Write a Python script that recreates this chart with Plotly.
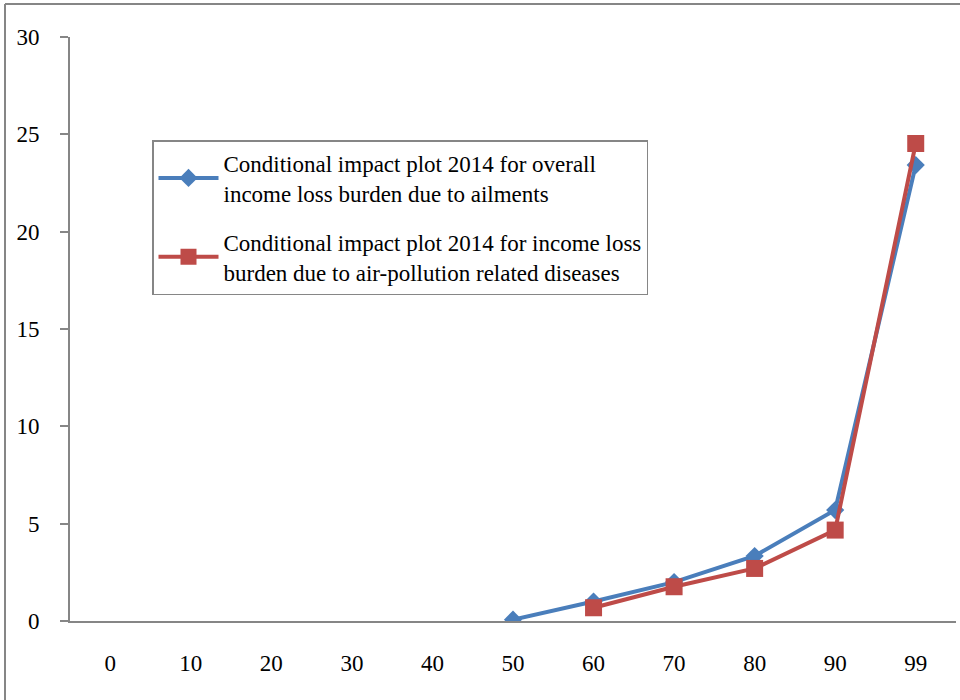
import plotly.graph_objects as go

categories = ["0", "10", "20", "30", "40", "50", "60", "70", "80", "90", "99"]
overall_x = ["50", "60", "70", "80", "90", "99"]
overall_y = [0.07, 1.0, 2.0, 3.34, 5.7, 23.42]
air_x = ["60", "70", "80", "90", "99"]
air_y = [0.68, 1.76, 2.7, 4.67, 24.53]

name_overall = "Conditional impact plot 2014 for overall<br>income loss burden due to ailments"
name_air = "Conditional impact plot 2014 for income loss<br>burden due to air-pollution related diseases"

BLUE = "#4A7EBB"
RED = "#BE4B48"
GRAY = "#868686"
FONT = "Liberation Serif"

fig = go.Figure()
fig.add_trace(go.Scatter(
    x=overall_x, y=overall_y, name=name_overall, mode="lines+markers",
    legendgroup="a",
    line=dict(color=BLUE, width=4),
    marker=dict(symbol="diamond", size=14, color=BLUE),
))
fig.add_trace(go.Scatter(
    x=air_x, y=air_y, name=name_air, mode="lines+markers",
    legendgroup="b",
    line=dict(color=RED, width=4),
    marker=dict(symbol="square", size=17, color=RED),
))

L, R, T, B = 70, 4, 37, 79
W, H = 960, 700
pw = W - L - R
ph = H - T - B

fig.update_layout(
    width=W, height=H,
    margin=dict(l=L, r=R, t=T, b=B),
    paper_bgcolor="white", plot_bgcolor="white",
    font=dict(family=FONT, size=23, color="black"),
    showlegend=True,
    legend=dict(
        x=(152 - L) / pw, y=1 - (140 - T) / ph, xanchor="left", yanchor="top",
        bordercolor=GRAY, borderwidth=1.5, bgcolor="white",
        font=dict(family=FONT, size=23, color="black"),
        tracegroupgap=16, itemwidth=60,
    ),
    xaxis=dict(
        type="category", categoryorder="array", categoryarray=categories,
        range=[-0.5, 10.5], showgrid=False, zeroline=False,
        showline=True, linecolor=GRAY, linewidth=2, ticks="",
        ticklabelstandoff=20, tickfont=dict(family=FONT, size=23),
    ),
    yaxis=dict(
        range=[0, 30], dtick=5, showgrid=False, zeroline=False,
        showline=True, linecolor=GRAY, linewidth=2,
        ticks="outside", ticklen=8, tickwidth=2, tickcolor=GRAY,
        ticklabelstandoff=16, tickfont=dict(family=FONT, size=23),
    ),
    shapes=[
        dict(type="line", xref="paper", yref="paper",
             x0=(5 - L) / pw, x1=(5 - L) / pw, y0=1 + (T - 4) / ph, y1=-(B) / ph,
             line=dict(color=GRAY, width=2)),
        dict(type="line", xref="paper", yref="paper",
             x0=(5 - L) / pw, x1=1 + R / pw, y0=1 + (T - 4) / ph, y1=1 + (T - 4) / ph,
             line=dict(color=GRAY, width=2)),
    ],
)

fig.write_html("out.html")
